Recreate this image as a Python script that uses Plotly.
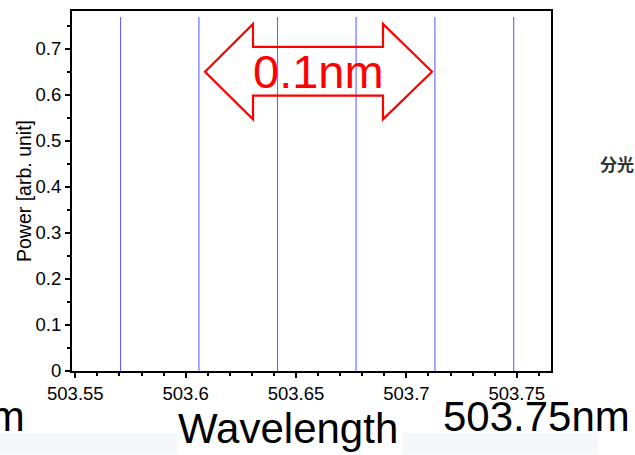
import plotly.graph_objects as go

# ---- data ----
wavelength_nm = [503.5705, 503.6060, 503.6416, 503.6772, 503.7129, 503.7486]
power_arb = [0.769, 0.769, 0.769, 0.769, 0.769, 0.769]
x_tick_vals = [503.55, 503.60, 503.65, 503.70, 503.75]
x_tick_text = ["503.55", "503.6", "503.65", "503.7", "503.75"]
y_tick_vals = [0, 0.1, 0.2, 0.3, 0.4, 0.5, 0.6, 0.7]
y_tick_text = ["0", "0.1", "0.2", "0.3", "0.4", "0.5", "0.6", "0.7"]

W, H = 635, 455
L, R, T, B = 72, 84, 9, 84
PW, PH = W - L - R, H - T - B


def px(x):
    return (x - L) / PW


def py(y):
    return (H - B - y) / PH


xs, ys = [], []
for w, p in zip(wavelength_nm, power_arb):
    xs += [w, w, None]
    ys += [0, p, None]

fig = go.Figure()
fig.add_trace(go.Scatter(x=xs, y=ys, mode="lines",
                         line=dict(color="#6262ff", width=1.1),
                         hoverinfo="skip", showlegend=False))

font = "Liberation Sans, Arial, sans-serif"
fig.update_layout(
    width=W, height=H,
    margin=dict(l=L, r=R, t=T, b=B, pad=0),
    paper_bgcolor="white", plot_bgcolor="white",
    font=dict(family=font, color="black"),
    showlegend=False,
)
fig.update_xaxes(range=[503.5485, 503.7655], tickvals=x_tick_vals, ticktext=x_tick_text,
                 ticks="outside", ticklen=5, tickwidth=2, tickcolor="black",
                 minor=dict(dtick=0.01, tick0=503.55, ticks="outside", ticklen=3, tickwidth=1.5, tickcolor="black"),
                 showline=True, linecolor="black", linewidth=2, mirror=True,
                 showgrid=False, zeroline=False, tickfont=dict(size=18.5, family=font))
fig.update_yaxes(range=[0, 0.782], tickvals=y_tick_vals, ticktext=y_tick_text,
                 ticks="outside", ticklen=5, tickwidth=2, tickcolor="black",
                 minor=dict(dtick=0.05, tick0=0, ticks="outside", ticklen=3, tickwidth=1.5, tickcolor="black"),
                 showline=True, linecolor="black", linewidth=2, mirror=True,
                 showgrid=False, zeroline=False, tickfont=dict(size=18.5, family=font))

# y-axis title
fig.add_annotation(text="Power [arb. unit]", textangle=-90, xref="paper", yref="paper",
                   x=px(24), y=py(190), xanchor="center", yanchor="middle", showarrow=False,
                   font=dict(size=19.5, family=font, color="black"))

# red double arrow (outline)
pts = [(205, 70), (253, 22), (253, 45), (383, 45), (383, 22), (432, 70),
       (383, 118), (383, 94), (253, 94), (253, 118)]
path = "M " + " L ".join(f"{px(a):.5f},{py(b):.5f}" for a, b in pts) + " Z"
fig.add_shape(type="path", path=path, xref="paper", yref="paper",
              line=dict(color="red", width=2.2), fillcolor="rgba(0,0,0,0)", layer="above")
fig.add_annotation(text="0.1nm", xref="paper", yref="paper", x=px(318), y=py(70),
                   xanchor="center", yanchor="middle", showarrow=False,
                   font=dict(size=47, family=font, color="red"))

# slide background band at bottom
for x0, x1 in [(0, 177), (403, 598)]:
    fig.add_shape(type="rect", xref="paper", yref="paper", x0=px(x0), x1=px(x1),
                  y0=py(455), y1=py(433), line=dict(width=0), fillcolor="#f5f7fb", layer="below")

# slide texts
fig.add_annotation(text="Wavelength", xref="paper", yref="paper", x=px(288), y=py(429),
                   xanchor="center", yanchor="middle", showarrow=False,
                   font=dict(size=42, family=font, color="black"))
fig.add_annotation(text="503.75nm", xref="paper", yref="paper", x=px(536), y=py(417),
                   xanchor="center", yanchor="middle", showarrow=False,
                   font=dict(size=42, family=font, color="black"))
fig.add_annotation(text="503.55nm", xref="paper", yref="paper", x=px(27), y=py(417),
                   xanchor="right", yanchor="middle", showarrow=False,
                   font=dict(size=42, family=font, color="black"))
fig.add_annotation(text="分光", xref="paper", yref="paper", x=px(598), y=py(162),
                   xanchor="left", yanchor="middle", showarrow=False,
                   font=dict(size=17, family="Noto Sans CJK JP", color="#333333", weight="bold"))

fig.write_html("out.html")
